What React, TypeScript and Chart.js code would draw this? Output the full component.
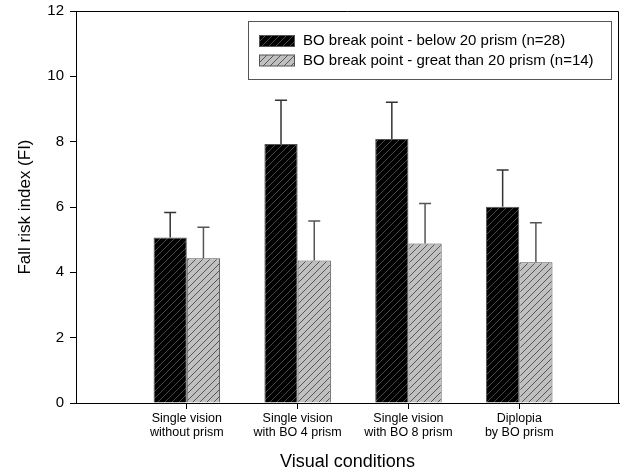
import React, { useEffect, useRef } from 'react';
import { Chart, registerables } from 'chart.js';

Chart.register(...registerables);

// ---- data ----
const categories: string[][] = [
  ['Single vision', 'without prism'],
  ['Single vision', 'with BO 4 prism'],
  ['Single vision', 'with BO 8 prism'],
  ['Diplopia', 'by BO prism'],
];
const seriesLabels = [
  'BO break point - below 20 prism (n=28)',
  'BO break point - great than 20 prism (n=14)',
];
const belowMeans = [5.07, 7.93, 8.08, 6.01];
const belowErrors = [0.76, 1.34, 1.13, 1.12];
const aboveMeans = [4.43, 4.36, 4.88, 4.31];
const aboveErrors = [0.95, 1.21, 1.23, 1.21];
const yMin = 0;
const yMax = 12;
const yStep = 2;

const FONT = '"Liberation Sans", Arial, Helvetica, sans-serif';

function makePattern(bg: string, line: string): CanvasPattern | string {
  const size = 7;
  const c = document.createElement('canvas');
  c.width = size;
  c.height = size;
  const x = c.getContext('2d');
  if (!x) return bg;
  x.fillStyle = bg;
  x.fillRect(0, 0, size, size);
  x.strokeStyle = line;
  x.lineWidth = 1;
  x.beginPath();
  x.moveTo(0, size);
  x.lineTo(size, 0);
  x.moveTo(-1, 1);
  x.lineTo(1, -1);
  x.moveTo(size - 1, size + 1);
  x.lineTo(size + 1, size - 1);
  x.stroke();
  return x.createPattern(c, 'repeat') || bg;
}

const errorBarPlugin = {
  id: 'errorBars',
  afterDatasetsDraw(chart: any) {
    const { ctx } = chart;
    const yScale = chart.scales.y;
    chart.data.datasets.forEach((ds: any, di: number) => {
      const meta = chart.getDatasetMeta(di);
      const errs: number[] = ds.errors || [];
      meta.data.forEach((el: any, i: number) => {
        const v = ds.data[i].y;
        const top = yScale.getPixelForValue(v + errs[i]);
        ctx.save();
        ctx.strokeStyle = ds.errorColor;
        ctx.lineWidth = 1.5;
        ctx.beginPath();
        ctx.moveTo(el.x, el.y);
        ctx.lineTo(el.x, top);
        ctx.moveTo(el.x - 6, top);
        ctx.lineTo(el.x + 6, top);
        ctx.stroke();
        ctx.restore();
      });
    });
  },
};

const framePlugin = {
  id: 'frame',
  afterDraw(chart: any) {
    const { ctx, chartArea: a } = chart;
    ctx.save();
    ctx.strokeStyle = '#000';
    ctx.lineWidth = 1;
    ctx.beginPath();
    ctx.moveTo(a.left, a.top + 0.5);
    ctx.lineTo(a.right - 0.5, a.top + 0.5);
    ctx.lineTo(a.right - 0.5, a.bottom);
    ctx.stroke();

    // legend box
    const bx = a.right - 371;
    const by = a.top + 10;
    const bw = 363;
    const bh = 58;
    ctx.strokeStyle = '#555';
    ctx.lineWidth = 1;
    ctx.strokeRect(bx + 0.5, by + 0.5, bw, bh);
    ctx.font = `15px ${FONT}`;
    ctx.textBaseline = 'middle';
    ctx.textAlign = 'left';
    chart.data.datasets.forEach((ds: any, i: number) => {
      const cy = by + 20 + i * 19.5;
      ctx.fillStyle = ds.backgroundColor;
      ctx.fillRect(bx + 11, cy - 5.5, 35, 11);
      ctx.strokeStyle = '#555';
      ctx.strokeRect(bx + 11.5, cy - 5.5, 35, 11);
      ctx.fillStyle = '#000';
      ctx.fillText(ds.label, bx + 55, cy);
    });
    ctx.restore();
  },
};

export default function App() {
  const ref = useRef<HTMLCanvasElement>(null);

  useEffect(() => {
    document.body.style.margin = '0';
    const canvas = ref.current;
    if (!canvas) return;
    const blackFill = makePattern('#000000', '#4a4a4a');
    const grayFill = makePattern('#c0c0c0', '#555555');

    const chart = new Chart(canvas, {
      type: 'bar',
      data: {
        datasets: [
          {
            label: seriesLabels[0],
            data: belowMeans.map((y, i) => ({ x: i + 1, y })),
            backgroundColor: blackFill as any,
            borderColor: '#555',
            borderWidth: 1,
            errors: belowErrors,
            errorColor: '#333',
          } as any,
          {
            label: seriesLabels[1],
            data: aboveMeans.map((y, i) => ({ x: i + 1, y })),
            backgroundColor: grayFill as any,
            borderColor: '#555',
            borderWidth: 1,
            errors: aboveErrors,
            errorColor: '#555',
          } as any,
        ],
      },
      options: {
        animation: false,
        responsive: false,
        devicePixelRatio: 1,
        layout: { padding: { top: 11, right: 5, left: 0, bottom: 0 } },
        datasets: { bar: { categoryPercentage: 0.6, barPercentage: 1.0 } },
        plugins: { legend: { display: false }, tooltip: { enabled: false } },
        scales: {
          x: {
            type: 'linear',
            min: 0,
            max: 4.9,
            offset: false,
            afterBuildTicks: (s: any) => {
              s.ticks = categories.map((_, i) => ({ value: i + 1 }));
            },
            afterFit: (s: any) => {
              s.height = 69;
            },
            grid: { drawOnChartArea: false, offset: false, tickLength: 6, color: '#000', lineWidth: 1 },
            border: { color: '#000', width: 1 },
            ticks: {
              callback: (v: any) => categories[Math.round(Number(v)) - 1] ?? '',
              font: { family: FONT, size: 12.5, lineHeight: 1.12 },
              color: '#000',
              padding: 3,
              maxRotation: 0,
              autoSkip: false,
            },
            title: {
              display: true,
              text: 'Visual conditions',
              font: { family: FONT, size: 18, lineHeight: 1 },
              color: '#000',
              padding: { top: 0, bottom: 1 },
            },
          } as any,
          y: {
            min: yMin,
            max: yMax,
            afterFit: (s: any) => {
              s.width = 76;
              s.paddingTop = 0;
              s.paddingBottom = 0;
            },
            ticks: {
              stepSize: yStep,
              font: { family: FONT, size: 15 },
              color: '#000',
              padding: 6,
            },
            grid: { drawOnChartArea: false, tickLength: 6, color: '#000', lineWidth: 1 },
            border: { color: '#000', width: 1 },
            title: {
              display: true,
              text: 'Fall risk index (FI)',
              font: { family: FONT, size: 17 },
              color: '#000',
              padding: { top: 15, bottom: 0 },
            },
          } as any,
        },
      },
      plugins: [errorBarPlugin, framePlugin],
    });
    return () => chart.destroy();
  }, []);

  return (
    <div style={{ width: 624, height: 472 }}>
      <canvas ref={ref} width={624} height={472} style={{ display: 'block' }} />
    </div>
  );
}
